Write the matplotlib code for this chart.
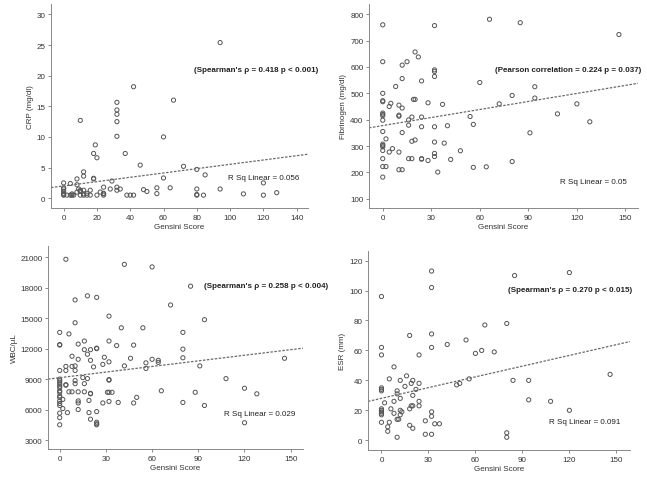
# Four scatter panels: inflammatory markers vs Gensini score, SPSS style.

import matplotlib.pyplot as plt

# CRP panel (Gensini score, CRP mg/dl)
crp_g = [0, 0, 0, 0, 0, 0, 0, 2, 4, 4, 5, 5, 6, 8, 8, 8, 9,
         10, 10, 10, 10, 12, 12, 12, 12, 12, 14, 14, 16, 16, 18, 18, 18, 19, 20, 20, 22,
         24, 24, 24, 24, 28, 29, 32, 32, 32, 32, 32, 32, 32, 34, 37, 38, 40, 42, 42,
         46, 48, 50, 56, 56, 60, 60, 64, 66, 72, 80, 80, 80, 80, 84, 85, 94, 94,
         108, 120, 120, 128]
crp_v = [2.5, 1.7, 1.5, 1.15, 0.8, 0.5, 0.6, 0.5, 2.4, 0.5, 0.5, 0.7, 0.5, 2.2, 3.15, 1.0, 1.5,
         12.7, 1.1, 0.5, 1.3, 4.3, 3.6, 1.3, 0.5, 0.7, 0.5, 0.8, 1.3, 0.5, 3.25, 3.15, 7.3, 8.7, 6.6, 0.5, 1.0,
         1.8, 0.5, 0.7, 0.8, 1.5, 2.8, 15.65, 14.4, 13.7, 12.5, 10.1, 1.8, 1.3, 1.5, 7.3, 0.5, 0.5, 18.2, 0.5,
         5.4, 1.4, 1.1, 1.7, 0.75, 10.0, 3.3, 1.7, 16.0, 5.2, 4.7, 1.5, 0.6, 0.5, 0.5, 3.8, 25.4, 1.5,
         0.7, 2.5, 0.5, 0.9]

# Fibrinogen panel (mg/dl)
fib_g = [0, 0, 0, 0, 0, 0, 0, 0, 0, 0, 0, 0, 0, 0, 0, 0, 0,
         2, 2, 4, 4, 5, 6, 8, 10, 10, 10, 10, 10, 12, 12, 12, 12, 12,
         15, 16, 16, 16, 18, 18, 18, 19, 20, 20, 20, 22, 24, 24, 24, 24, 24,
         28, 28, 32, 32, 32, 32, 32, 32, 32, 32, 34, 37, 38, 40, 42, 48, 54, 56, 56,
         60, 64, 66, 72, 80, 80, 85, 91, 94, 94, 108, 120, 128, 146]
fib_v = [760, 620, 500, 472, 468, 425, 420, 415, 398, 355, 307, 302, 297, 283, 252, 222, 182,
         327, 222, 277, 450, 462, 290, 526, 455, 417, 413, 277, 210, 607, 556, 444, 351, 210,
         620, 399, 379, 252, 252, 410, 318, 477, 657, 477, 323, 638, 547, 410, 373, 252, 250,
         245, 464, 757, 589, 583, 564, 373, 315, 272, 260, 201, 458, 311, 377, 249, 282, 412, 382, 219,
         541, 221, 781, 460, 492, 241, 768, 350, 525, 482, 422, 460, 392, 723]

# WBC panel (cells/uL)
wbc_g = [0, 0, 0, 0, 0, 0, 0, 0, 0, 0, 0, 0, 0, 0, 0, 0, 0, 0, 0, 0,
         2, 2, 4, 4, 4, 4, 4, 5, 6, 6, 8, 8, 8, 10, 10, 10, 10, 10, 10,
         12, 12, 12, 12, 12, 12, 15, 16, 16, 16, 16, 18, 18, 18, 19, 19,
         20, 20, 20, 20, 20, 22, 24, 24, 24, 24, 24, 24, 24, 28, 28, 29, 31,
         32, 32, 32, 32, 32, 32, 32, 34, 37, 38, 40, 42, 42, 46, 48, 48, 50, 54,
         56, 56, 60, 60, 64, 64, 66, 72, 80, 80, 80, 80, 88, 85, 91, 94, 94,
         108, 120, 120, 128, 146]
wbc_v = [13600, 12400, 12350, 9850, 9000, 8850, 8700, 8500, 8300, 8150, 7850, 7700, 7350, 7200,
         6850, 6600, 6400, 5650, 5200, 4500,
         6100, 7000, 20800, 10250, 9850, 8400, 8450, 5700, 13450, 7750, 11250, 10250, 7750,
         16800, 14550, 10300, 9850, 8850, 8550,
         12450, 10950, 6850, 6650, 6000, 7750, 9150, 12750, 11900, 8550, 7750, 17200, 11450, 9050, 6900, 5700,
         11900, 10850, 7600, 7550, 5050, 10200, 17050, 12050, 12000, 5800, 4750, 4600, 4500,
         10450, 6650, 11150, 7700,
         15200, 12750, 10700, 8950, 8900, 7700, 6800, 7700, 12300, 6700, 14050, 20300, 10300,
         11050, 12350, 6650, 7200, 14050,
         10600, 10050, 20050, 10950, 10850, 10650, 7850, 16300, 13600, 11950, 11100, 6700, 7700,
         18150, 10300, 14850, 6400,
         9050, 8100, 4700, 7550, 11050]

# ESR panel (mm)
esr_g = [0, 0, 0, 0, 0, 0, 0, 0, 0, 0, 0, 0, 2, 4, 4, 5, 5, 6, 8, 8, 8,
         10, 10, 10, 10, 11, 12, 12, 12, 12, 13, 15, 16, 18, 18, 18, 19, 19,
         20, 20, 20, 20, 22, 24, 24, 24, 24, 28, 28, 32, 32, 32, 32, 32, 32, 32,
         34, 37, 42, 48, 50, 54, 56, 60, 64, 66, 72, 80, 80, 80, 84, 85, 94, 94,
         108, 120, 120, 146]
esr_v = [96, 62, 57, 35, 34, 33, 21, 20, 19, 18, 17, 12, 25, 9, 6, 41, 12, 21, 49, 26, 18,
         33, 31, 2, 14, 14, 40, 28, 20, 17, 19, 36, 43, 70, 21, 10, 38, 23,
         40, 30, 23, 8, 34, 57, 38, 26, 23, 13, 4, 113, 102, 71, 62, 19, 16, 4,
         11, 11, 64, 37, 38, 67, 41, 58, 60, 77, 59, 78, 5, 2, 40, 110, 40, 27,
         26, 112, 20, 44]

# fit lines: (intercept, slope)
crp_fit = (2.0, 0.0353)
fib_fit = (377.6, 1.016)
wbc_fit = (9140, 18.4)
esr_fit = (28.0, 0.239)

W, H = 647, 481
fig = plt.figure(figsize=(W / 100, H / 100), dpi=100)
plt.rcParams['font.family'] = ['Liberation Sans', 'DejaVu Sans']

txt_col = '#333333'
fs = 5.8


def px_axes(left, top, right, bottom):
    # figure pixel box (top-left origin) -> axes
    return fig.add_axes([left / W, 1 - bottom / H, (right - left) / W, (bottom - top) / H])


def style_panel(ax, gx, vals, fit, xlim, ylim, xticks, yticks, ylabel, yticklabels=None):
    ax.scatter(gx, vals, s=9, facecolors='none', edgecolors='#555555', linewidths=0.7)
    xs = list(xlim)
    ax.plot(xs, [fit[0] + fit[1] * x for x in xs], color='#6a6a6a', lw=0.9,
            linestyle=(0, (2.0, 1.2)))
    ax.set_xlim(xlim)
    ax.set_ylim(ylim)
    ax.set_xticks(xticks)
    ax.set_yticks(yticks)
    if yticklabels is not None:
        ax.set_yticklabels(yticklabels)
    ax.set_xlabel('Gensini Score', fontsize=fs, color=txt_col, labelpad=1.5)
    ax.set_ylabel(ylabel, fontsize=fs, color=txt_col, labelpad=2)
    ax.tick_params(labelsize=fs, colors='#777777', labelcolor=txt_col, length=2.5,
                   width=0.6, pad=1.5)
    for side in ['top', 'right']:
        ax.spines[side].set_visible(False)
    for side in ['left', 'bottom']:
        ax.spines[side].set_color('#888888')
        ax.spines[side].set_linewidth(0.7)


ax1 = px_axes(51, 5, 308, 209)
style_panel(ax1, crp_g, crp_v, crp_fit, (-7.6, 146.8), (-1.6, 31.7),
            range(0, 141, 20), range(0, 31, 5), 'CRP (mg/dl)')

ax2 = px_axes(369, 5, 638, 209)
style_panel(ax2, fib_g, fib_v, fib_fit, (-8.5, 157.8), (64.7, 839),
            range(0, 151, 30), range(100, 801, 100), 'Fibrinogen (mg/dl)')

ax3 = px_axes(48, 247, 303, 450)
style_panel(ax3, wbc_g, wbc_v, wbc_fit, (-7.6, 158), (2115, 22110),
            range(0, 151, 30), range(3000, 21001, 3000), 'WBC/\u03bcL')

ax4 = px_axes(368, 252, 630, 451)
style_panel(ax4, esr_g, esr_v, esr_fit, (-8.6, 158.7), (-6.5, 126.4),
            range(0, 151, 30), range(0, 121, 20), 'ESR (mm)')

# statistic notes, placed in figure pixels
notes = [
    (318, 70, "(Spearman's \u03c1 = 0.418 p < 0.001)", 'bold'),
    (299, 178, 'R Sq Linear = 0.056', 'normal'),
    (641, 70, '(Pearson correlation = 0.224 p = 0.037)', 'bold'),
    (627, 182, 'R Sq Linear = 0.05', 'normal'),
    (328, 286, "(Spearman's \u03c1 = 0.258 p < 0.004)", 'bold'),
    (295, 415, 'R Sq Linear = 0.029', 'normal'),
    (632, 290, "(Spearman's \u03c1 = 0.270 p < 0.015)", 'bold'),
    (620, 423, 'R Sq Linear = 0.091', 'normal'),
]
for x, y, s, w in notes:
    fig.text(x / W, 1 - y / H, s, ha='right', va='center', fontsize=fs,
             fontweight=w, color='#222222')

plt.savefig('out.png', dpi=100)
